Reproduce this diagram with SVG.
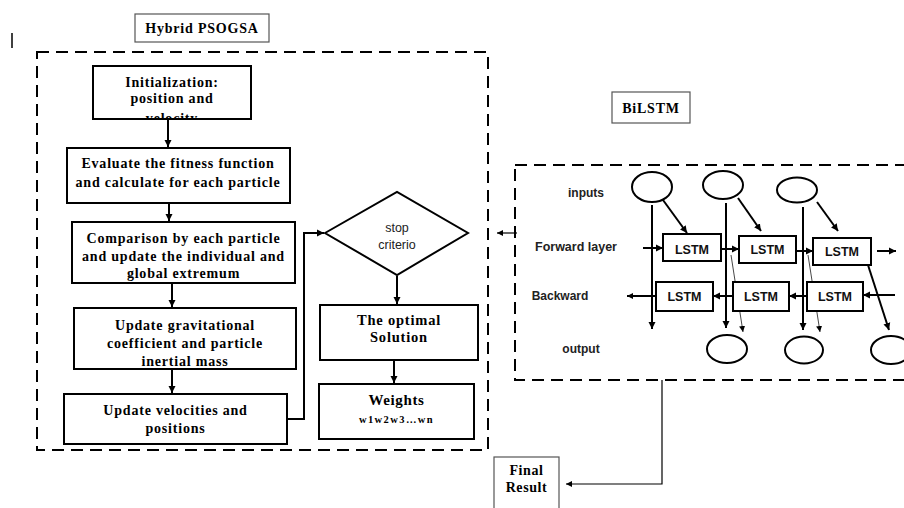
<svg xmlns="http://www.w3.org/2000/svg" width="904" height="508" viewBox="0 0 904 508">
<defs>
<style>
.bg{fill:#fff}
.box{fill:#fff;stroke:#000;stroke-width:2}
.title{fill:#fff;stroke:#555;stroke-width:1.2}
.dash{fill:none;stroke:#000;stroke-width:2;stroke-dasharray:12 7}
.ft{font-family:"Liberation Serif","Times New Roman",serif;font-weight:bold;font-size:14px;letter-spacing:0.8px;text-anchor:middle;fill:#000}
.st{font-family:"Liberation Sans",Arial,sans-serif;font-weight:bold;font-size:12px;text-anchor:middle;fill:#222}
.lt{font-family:"Liberation Sans",Arial,sans-serif;font-weight:bold;font-size:12.5px;text-anchor:middle;fill:#111}
.dt{font-family:"Liberation Sans",Arial,sans-serif;font-size:12.5px;text-anchor:middle;fill:#222}
.ln{fill:none;stroke:#000;stroke-width:2}
.thin{fill:none;stroke:#000;stroke-width:1.2}
.hair{fill:none;stroke:#333;stroke-width:0.9}
.el{fill:#fff;stroke:#000;stroke-width:2}
</style>
<marker id="ah" markerUnits="userSpaceOnUse" markerWidth="8" markerHeight="8" refX="7" refY="4" orient="auto">
<path d="M0,0.5 L7,4 L0,7.5 z" fill="#000"/>
</marker>
<marker id="ahs" markerUnits="userSpaceOnUse" markerWidth="7" markerHeight="7" refX="6" refY="3.5" orient="auto">
<path d="M0,0.5 L6,3.5 L0,6.5 z" fill="#000"/>
</marker>
<clipPath id="initclip"><rect x="93" y="66" width="158" height="52"/></clipPath>
</defs>
<rect class="bg" x="0" y="0" width="904" height="508"/>

<line x1="12" y1="33" x2="12" y2="48" stroke="#000" stroke-width="1.5"/>

<g id="title-hybrid">
<rect class="title" x="135" y="14" width="134" height="28"/>
<text class="ft" x="202" y="33">Hybrid PSOGSA</text>
</g>

<g id="hybrid-frame">
<rect class="dash" x="37" y="52" width="451" height="398"/>
</g>

<g id="init">
<rect class="box" x="93" y="66" width="158" height="53"/>
<g clip-path="url(#initclip)">
<text class="ft" x="172" y="87">Initialization:</text>
<text class="ft" x="172" y="103">position and</text>
<text class="ft" x="172" y="122.5">velocity</text>
</g>
</g>

<g id="evaluate">
<rect class="box" x="67" y="148" width="223" height="55"/>
<text class="ft" x="178" y="168">Evaluate the fitness function</text>
<text class="ft" x="178" y="187">and calculate for each particle</text>
</g>

<g id="comparison">
<rect class="box" x="72" y="222" width="223" height="61"/>
<text class="ft" x="183.5" y="243">Comparison by each particle</text>
<text class="ft" x="183.5" y="261">and update the individual and</text>
<text class="ft" x="183.5" y="278">global extremum</text>
</g>

<g id="update-grav">
<rect class="box" x="74" y="308" width="222" height="61"/>
<text class="ft" x="185" y="330">Update gravitational</text>
<text class="ft" x="185" y="348">coefficient and particle</text>
<text class="ft" x="185" y="365.5">inertial mass</text>
</g>

<g id="update-vel">
<rect class="box" x="64" y="394" width="223" height="50"/>
<text class="ft" x="175.5" y="415">Update velocities and</text>
<text class="ft" x="175.5" y="433">positions</text>
</g>

<g id="stop">
<polygon class="box" points="325,233 397,192 468,233 397,275"/>
<text class="dt" x="397" y="232">stop</text>
<text class="dt" x="397" y="249">criterio</text>
</g>

<g id="optimal">
<rect class="box" x="320" y="305" width="158" height="55"/>
<text class="ft" x="399" y="325" style="font-size:14.5px;letter-spacing:0.8px">The optimal</text>
<text class="ft" x="399" y="342" style="font-size:14.5px;letter-spacing:0.8px">Solution</text>
</g>

<g id="weights">
<rect class="box" x="319" y="384" width="155" height="55"/>
<text class="ft" x="396.5" y="405" style="font-size:15px;letter-spacing:0.6px">Weights</text>
<text class="ft" x="396.5" y="423" style="font-size:10.5px;letter-spacing:1.4px">w1w2w3…wn</text>
</g>

<g id="title-bilstm">
<rect class="title" x="612" y="92" width="78" height="31"/>
<text class="ft" x="651" y="113">BiLSTM</text>
</g>

<g id="bilstm-frame">
<rect class="dash" x="515" y="165" width="420" height="215"/>
</g>

<g id="bilstm-labels">
<text class="st" x="586" y="197">inputs</text>
<text class="st" x="576" y="251" style="font-size:12.5px">Forward layer</text>
<text class="st" x="560" y="300">Backward</text>
<text class="st" x="581" y="353">output</text>
</g>

<g id="inputs">
<ellipse class="el" cx="652" cy="187" rx="20" ry="15"/>
<ellipse class="el" cx="723" cy="185" rx="20" ry="14"/>
<ellipse class="el" cx="797" cy="190" rx="20" ry="12.5"/>
</g>

<g id="outputs">
<ellipse class="el" cx="727" cy="349" rx="20" ry="14"/>
<ellipse class="el" cx="804" cy="350" rx="19" ry="13.5"/>
<ellipse class="el" cx="891" cy="350" rx="20" ry="14"/>
</g>

<g id="bilstm-connectors">
<line class="ln" x1="652" y1="205" x2="652" y2="329" marker-end="url(#ah)"/>
<line class="ln" x1="726" y1="203" x2="726" y2="328" marker-end="url(#ah)"/>
<line class="ln" x1="803" y1="207" x2="803" y2="330" marker-end="url(#ah)"/>
<line class="ln" x1="663" y1="200" x2="687" y2="233" marker-end="url(#ah)"/>
<line class="ln" x1="738" y1="198" x2="761" y2="231" marker-end="url(#ah)"/>
<line class="ln" x1="817" y1="202" x2="838" y2="231" marker-end="url(#ah)"/>
<line class="ln" x1="643" y1="248" x2="663" y2="248" marker-end="url(#ah)"/>
<line class="ln" x1="721" y1="249" x2="739" y2="249" marker-end="url(#ah)"/>
<line class="ln" x1="796" y1="251" x2="813" y2="251" marker-end="url(#ah)"/>
<line class="ln" x1="877" y1="251" x2="896" y2="251" marker-end="url(#ah)"/>
<line class="ln" x1="895" y1="295" x2="863" y2="295" marker-end="url(#ah)"/>
<line class="ln" x1="807" y1="296" x2="789" y2="296" marker-end="url(#ah)"/>
<line class="ln" x1="733" y1="296" x2="713" y2="296" marker-end="url(#ah)"/>
<line class="ln" x1="656" y1="296" x2="627" y2="296" marker-end="url(#ahs)"/>
<line class="hair" x1="731" y1="255" x2="743" y2="332" marker-end="url(#ahs)"/>
<line class="hair" x1="808" y1="255" x2="820" y2="332" marker-end="url(#ahs)"/>
<line class="ln" x1="868" y1="265" x2="889" y2="330" marker-end="url(#ah)"/>
</g>

<g id="lstm-forward">
<rect class="box" x="663" y="234" width="58" height="27"/>
<text class="lt" x="692" y="253.5">LSTM</text>
<rect class="box" x="739" y="236" width="57" height="27"/>
<text class="lt" x="767.5" y="254">LSTM</text>
<rect class="box" x="813" y="238" width="58" height="27"/>
<text class="lt" x="842" y="256">LSTM</text>
</g>

<g id="lstm-backward">
<rect class="box" x="656" y="282" width="57" height="29"/>
<text class="lt" x="684.5" y="301">LSTM</text>
<rect class="box" x="733" y="282" width="56" height="29"/>
<text class="lt" x="761" y="301">LSTM</text>
<rect class="box" x="807" y="282" width="56" height="29"/>
<text class="lt" x="835" y="301">LSTM</text>
</g>

<g id="final">
<rect class="title" x="494" y="457" width="65" height="60"/>
<text class="ft" x="526.5" y="475" style="font-size:14px;letter-spacing:0.6px">Final</text>
<text class="ft" x="526.5" y="492" style="font-size:14px;letter-spacing:0.6px">Result</text>
</g>

<g id="connectors">
<line class="ln" x1="168" y1="119" x2="168" y2="147" marker-end="url(#ah)"/>
<line class="ln" x1="169" y1="203" x2="169" y2="221" marker-end="url(#ah)"/>
<line class="ln" x1="172" y1="283" x2="172" y2="307" marker-end="url(#ah)"/>
<line class="ln" x1="172" y1="369" x2="172" y2="393" marker-end="url(#ah)"/>
<polyline class="ln" points="287,419 304,419 304,233 324,233" marker-end="url(#ah)"/>
<line class="ln" x1="397" y1="276" x2="397" y2="304" marker-end="url(#ah)"/>
<line class="ln" x1="394" y1="360" x2="394" y2="383" marker-end="url(#ah)"/>
<line class="thin" x1="517" y1="233" x2="497" y2="233" marker-end="url(#ahs)"/>
<polyline class="thin" points="662,380 662,484 566,484" marker-end="url(#ahs)"/>
</g>
</svg>
